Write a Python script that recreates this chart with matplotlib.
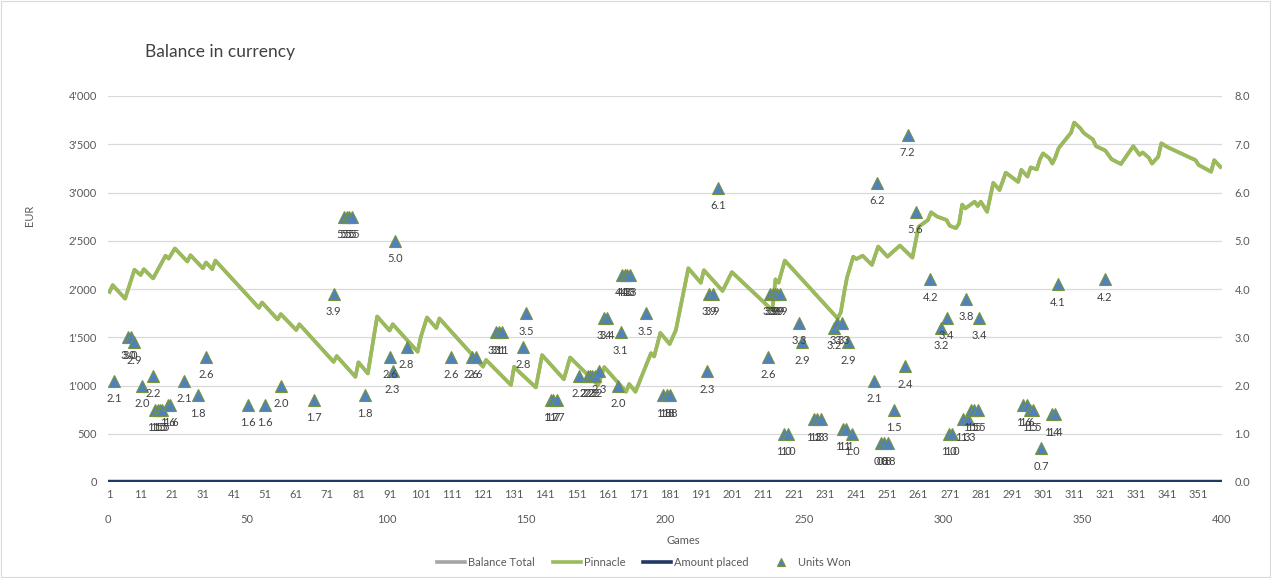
import matplotlib
matplotlib.use("Agg")
import matplotlib.pyplot as plt
from matplotlib.ticker import FuncFormatter, MultipleLocator
from matplotlib.lines import Line2D
from matplotlib.patches import Rectangle

plt.rcParams["font.family"] = ["Lato", "DejaVu Sans"]

# Pinnacle balance (EUR) read at the turning points of the line
games = [1, 2, 6, 9, 11, 12, 15, 19, 20, 22, 26, 27, 31, 32, 34, 35, 49, 50, 55, 56,
         61, 62, 73, 74, 80, 81, 84, 87, 91, 92, 100, 101, 103, 106, 107, 121, 122, 130,
         131, 132, 138, 140, 147, 149, 158, 160, 167, 168, 170, 175, 176, 178, 181, 183,
         187, 191, 192, 198, 201, 214, 215, 216, 218, 235, 236, 237, 238, 240, 241, 243,
         246, 248, 251, 255, 259, 261, 264, 265, 267, 270, 271, 273, 274, 275, 276, 279,
         280, 281, 283, 285, 287, 289, 293, 294, 295, 296, 297, 299, 300, 301, 303, 304,
         305, 306, 310, 311, 313, 314, 315, 317, 318, 321, 323, 326, 330, 332, 333, 335,
         336, 338, 339, 341, 350, 351, 355, 356, 358]
balance = [1970, 2040, 1900, 2200, 2145, 2205, 2110, 2345, 2315, 2420, 2285, 2350, 2215,
           2275, 2205, 2295, 1805, 1860, 1685, 1740, 1575, 1635, 1245, 1305, 1090, 1240,
           1125, 1715, 1570, 1635, 1350, 1500, 1705, 1595, 1695, 1195, 1265, 1005, 1195,
           1160, 980, 1315, 1065, 1290, 1005, 1190, 935, 1015, 935, 1335, 1300, 1545, 1430,
           1575, 2215, 2065, 2195, 1980, 2175, 1780, 2100, 2065, 2295, 1695, 1760, 1950,
           2120, 2335, 2310, 2345, 2250, 2440, 2335, 2450, 2325, 2645, 2715, 2795, 2750,
           2715, 2655, 2630, 2680, 2875, 2835, 2905, 2860, 2905, 2800, 3100, 3025, 3205,
           3110, 3235, 3200, 3165, 3260, 3240, 3345, 3405, 3355, 3300, 3370, 3460, 3620,
           3725, 3665, 3620, 3595, 3550, 3480, 3435, 3345, 3295, 3480, 3390, 3415, 3360,
           3300, 3370, 3510, 3470, 3335, 3285, 3215, 3335, 3265]

n_games = 358
amount_placed = [0] * n_games

# Units won (secondary axes)
units_x = [2.3, 7.3, 8.1, 9.3, 12.3, 16.3, 16.9, 17.8, 18.7, 19.5, 21.4, 22.4, 27.3, 32.2,
           35.2, 50.2, 56.4, 62.1, 74.1, 81.1, 84.7, 85.7, 86.5, 87.5, 92.3, 101.3, 102.2,
           103.2, 107.2, 123.2, 130.6, 132.0, 139.2, 140.3, 141.4, 149.1, 150.1, 159.1,
           159.8, 161.1, 169.1, 172.2, 173.1, 173.9, 174.9, 176.3, 178.2, 179.3, 183.2,
           184.1, 184.7, 185.6, 186.5, 187.4, 193.1, 199.4, 200.6, 201.8, 215.2, 215.9,
           217.1, 219.1, 237.1, 237.7, 238.7, 239.5, 240.3, 241.3, 242.8, 244.0, 248.1,
           249.3, 253.5, 254.6, 255.9, 260.7, 261.7, 263.5, 263.8, 265.0, 265.8, 267.0,
           275.2, 276.1, 277.6, 278.7, 280.2, 282.2, 286.2, 287.1, 290.0, 295.2, 299.1,
           301.1, 302.0, 302.9, 306.9, 308.1, 308.9, 309.9, 310.9, 312.3, 312.9, 328.7,
           329.9, 331.1, 332.3, 335.0, 338.8, 340.0, 341.0, 358.0]
units_won = [2.1, 3.0, 3.0, 2.9, 2.0, 2.2, 1.5, 1.5, 1.5, 1.5, 1.6, 1.6, 2.1, 1.8,
             2.6, 1.6, 1.6, 2.0, 1.7, 3.9, 5.5, 5.5, 5.5, 5.5, 1.8, 2.6, 2.3,
             5.0, 2.8, 2.6, 2.6, 2.6, 3.1, 3.1, 3.1, 2.8, 3.5, 1.7,
             1.7, 1.7, 2.2, 2.2, 2.2, 2.2, 2.2, 2.3, 3.4, 3.4, 2.0,
             3.1, 4.3, 4.3, 4.3, 4.3, 3.5, 1.8, 1.8, 1.8, 2.3, 3.9,
             3.9, 6.1, 2.6, 3.9, 3.9, 3.9, 3.9, 3.9, 1.0, 1.0, 3.3,
             2.9, 1.3, 1.3, 1.3, 3.2, 3.3, 3.3, 1.1, 1.1, 2.9, 1.0,
             2.1, 6.2, 0.8, 0.8, 0.8, 1.5, 2.4, 7.2, 5.6, 4.2, 3.2,
             3.4, 1.0, 1.0, 1.3, 3.8, 1.3, 1.5, 1.5, 1.5, 3.4, 1.6,
             1.6, 1.5, 1.5, 0.7, 1.4, 1.4, 4.1, 4.2]

GRAY_TXT = "#595959"
GREEN = "#9bbb59"
NAVY = "#203864"
W, H = 1271, 578

fig = plt.figure(figsize=(W / 100, H / 100), dpi=100)
rect = [108 / W, 1 - 482 / H, (1222 - 108) / W, (482 - 96) / H]

ax = fig.add_axes(rect)
ax.plot(games, balance, color="#a5a5a5", lw=2.6)  # Balance Total sits under Pinnacle
ax.plot(games, balance, color=GREEN, lw=2.6)
ax.plot(range(1, n_games + 1), amount_placed, color=NAVY, lw=3.2, zorder=3)
ax.set_xlim(0.5, n_games + 0.5)
ax.set_ylim(0, 4000)
ax.yaxis.set_major_locator(MultipleLocator(500))
ax.yaxis.set_major_formatter(FuncFormatter(lambda v, p: f"{int(v):,}".replace(",", "'")))
ax.set_xticks(range(1, n_games, 10))
ax.grid(axis="y", color="#d9d9d9", lw=0.9)
ax.set_axisbelow(True)
for s in ax.spines.values():
    s.set_visible(False)
ax.tick_params(axis="x", length=0, pad=5, labelsize=8, labelcolor=GRAY_TXT)
ax.tick_params(axis="y", length=0, pad=8, labelsize=8, labelcolor=GRAY_TXT)

ax2 = fig.add_axes(rect, frameon=False)
ax2.patch.set_visible(False)
ax2.plot(units_x, units_won, ls="none", marker="^", ms=8, mfc="#4f81bd",
         mec="#77933c", mew=0.8)
for x, v in zip(units_x, units_won):
    ax2.annotate(f"{v:.1f}", (x, v), xytext=(0, -18), textcoords="offset pixels",
                 ha="center", va="center", fontsize=8, color="#404040")
ax2.set_xlim(0, 400)
ax2.set_ylim(0, 8)
ax2.xaxis.set_major_locator(MultipleLocator(50))
ax2.yaxis.set_major_locator(MultipleLocator(1))
ax2.yaxis.set_major_formatter(FuncFormatter(lambda v, p: f"{v:.1f}"))
ax2.yaxis.tick_right()
ax2.tick_params(axis="x", length=0, pad=23, labelsize=8, labelcolor=GRAY_TXT)
ax2.tick_params(axis="y", length=0, pad=9, labelsize=8, labelcolor=GRAY_TXT)

fig.text(145 / W, 1 - 52 / H, "Balance in currency", fontsize=12.5, color="#404040",
         ha="left", va="center")
fig.text(30 / W, 1 - 215 / H, "EUR", rotation=90, fontsize=8, color=GRAY_TXT,
         ha="center", va="center")
fig.text(683 / W, 1 - 541 / H, "Games", fontsize=8, color=GRAY_TXT,
         ha="center", va="center")

handles = [Line2D([], [], color="#a5a5a5", lw=2.6),
           Line2D([], [], color=GREEN, lw=2.6),
           Line2D([], [], color=NAVY, lw=2.6),
           Line2D([], [], ls="none", marker="^", ms=5.5, mfc="#4f81bd", mec="#77933c", mew=0.8)]
fig.legend(handles, ["Balance Total", "Pinnacle", "Amount placed", "Units Won"],
           loc="center", bbox_to_anchor=(644 / W, 1 - 562 / H), ncol=4, frameon=False,
           fontsize=8, labelcolor=GRAY_TXT, handlelength=2.5, handletextpad=0.3,
           columnspacing=1.6)

fig.patches.append(Rectangle((0.001, 0.001), 0.998, 0.998, transform=fig.transFigure,
                             fill=False, ec="#d9d9d9", lw=0.8))

fig.savefig("out.png", dpi=100)
